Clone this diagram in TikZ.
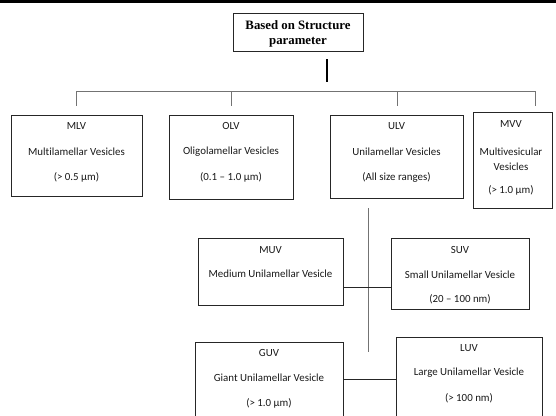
\documentclass[tikz,border=0pt]{standalone}
\usepackage{fontspec}
\setmainfont{Carlito}[Ligatures={NoCommon}]
\newfontfamily\titlefont{Liberation Serif}
\begin{document}
\begin{tikzpicture}[x=1pt,y=-1pt,
  box/.style={draw=black!85, line width=0.9pt, inner sep=0pt, anchor=north west},
  txt/.style={font=\fontsize{10.9}{12}\selectfont, text=black!90, inner sep=0pt, anchor=center},
  ttl/.style={font=\titlefont\bfseries\fontsize{12.8}{14}\selectfont, text=black, inner sep=0pt, anchor=center},
  bus/.style={draw=black!55, line width=1pt},
  link/.style={draw=black!85, line width=0.9pt},
  stem/.style={draw=black, line width=1.4pt}]
\clip (0,0) rectangle (556,415);
\fill[white] (0,0) rectangle (556,415);
\fill[black] (0,0) rectangle (556,3);

% title
\node[box, minimum width=130pt, minimum height=38pt] (title) at (233,13) {};
\node[ttl] (t1) at (298,25) {Based on Structure};
\node[ttl] (t2) at (298,42) {parameter};

% first level boxes
\node[box, minimum width=131pt, minimum height=81pt] (mlv) at (11,115) {};
\node[txt] (mlv1) at (76.5,126) {MLV};
\node[txt] (mlv2) at (76.5,152) {Multilamellar Vesicles};
\node[txt] (mlv3) at (76.5,177) {(> 0.5 µm)};

\node[box, minimum width=124pt, minimum height=84pt] (olv) at (169,115) {};
\node[txt] (olv1) at (231,126) {OLV};
\node[txt] (olv2) at (231,152) {Oligolamellar Vesicles};
\node[txt] (olv3) at (231,177) {(0.1 – 1.0 µm)};

\node[box, minimum width=133pt, minimum height=83pt] (ulv) at (330,115) {};
\node[txt] (ulv1) at (396.5,126) {ULV};
\node[txt] (ulv2) at (396.5,152) {Unilamellar Vesicles};
\node[txt] (ulv3) at (396.5,177) {(All size ranges)};

\node[box, minimum width=79pt, minimum height=96pt] (mvv) at (473,112) {};
\node[txt] (mvv1) at (511,124) {MVV};
\node[txt] (mvv2) at (511,152) {Multivesicular};
\node[txt] (mvv3) at (511,167) {Vesicles};
\node[txt] (mvv4) at (511,190) {(> 1.0 µm)};

% second level boxes
\node[box, minimum width=145pt, minimum height=67pt] (muv) at (198,238) {};
\node[txt] (muv1) at (270.5,250) {MUV};
\node[txt] (muv2) at (270.5,274) {Medium Unilamellar Vesicle};

\node[box, minimum width=138pt, minimum height=71pt] (suv) at (391,238) {};
\node[txt] (suv1) at (460,250) {SUV};
\node[txt] (suv2) at (460,275) {Small Unilamellar Vesicle};
\node[txt] (suv3) at (460,299) {(20 – 100 nm)};

\node[box, minimum width=148pt, minimum height=90pt] (guv) at (195,342) {};
\node[txt] (guv1) at (269,353) {GUV};
\node[txt] (guv2) at (269,378) {Giant Unilamellar Vesicle};
\node[txt] (guv3) at (269,403) {(> 1.0 µm)};

\node[box, minimum width=146pt, minimum height=90pt] (luv) at (396,337) {};
\node[txt] (luv1) at (469,348) {LUV};
\node[txt] (luv2) at (469,373) {Large Unilamellar Vesicle};
\node[txt] (luv3) at (469,398) {(> 100 nm)};

% connectors
\coordinate (s1) at (327,59);
\coordinate (s2) at (327,82);
\draw[stem] (s1) -- (s2);

\coordinate (b0) at (76,91);
\coordinate (b1) at (231,91);
\coordinate (b2) at (397,91);
\coordinate (b3) at (535,91);
\coordinate (d0) at (76,106);
\coordinate (d1) at (231,106);
\coordinate (d2) at (397,106);
\coordinate (d3) at (535,106);
\draw[bus] (b0) -- (b3);
\draw[bus] (b0) -- (d0);
\draw[bus] (b1) -- (d1);
\draw[bus] (b2) -- (d2);
\draw[bus] (b3) -- (d3);

\coordinate (v1) at (368,208);
\coordinate (v2) at (368,352);
\draw[bus] (v1) -- (v2);

\coordinate (j1) at (368,287);
\coordinate (j2) at (368,379);
\draw[link] (muv.east |- j1) -- (suv.west |- j1);
\draw[link] (guv.east |- j2) -- (luv.west |- j2);
\end{tikzpicture}
\end{document}
